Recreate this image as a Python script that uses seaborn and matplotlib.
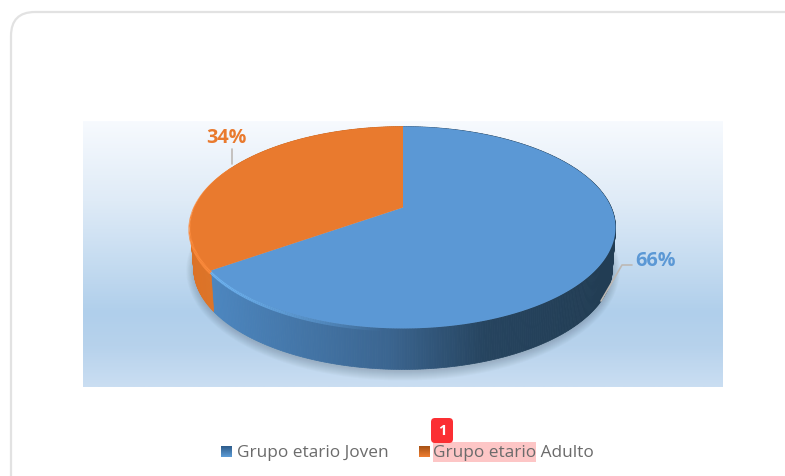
import numpy as np
import matplotlib
matplotlib.use("Agg")
import matplotlib.pyplot as plt
from matplotlib.colors import LinearSegmentedColormap
from matplotlib.patches import FancyBboxPatch, Polygon, Rectangle
import seaborn as sns

categories = ["Grupo etario Joven", "Grupo etario Adulto"]
values = [66, 34]
pct_labels = ["66%", "34%"]

sns.set_theme(style="white")
plt.rcParams["font.family"] = ["Open Sans", "DejaVu Sans"]

BLUE, ORANGE = "#5b98d5", "#e97a2e"
GREY = "#6b6b6b"

fig = plt.figure(figsize=(7.85, 4.77), dpi=100, facecolor="white")
ax = fig.add_axes([0, 0, 1, 1])
ax.set_xlim(0, 785)
ax.set_ylim(477, 0)
ax.axis("off")

# card
ax.add_patch(FancyBboxPatch((11, 13), 840, 520, boxstyle="round,pad=0,rounding_size=24",
                            fc="white", ec="#e2e2e2", lw=1.6, zorder=0))

# plot-area gradient
bg = LinearSegmentedColormap.from_list(
    "bg", [(0, "#f7fafe"), (0.3, "#dfebf7"), (0.72, "#b0cfeb"), (0.85, "#b7d2ec"), (1, "#cadef2")])
ax.imshow(np.linspace(0, 1, 256)[:, None], cmap=bg, extent=(83, 723, 388, 122),
          aspect="auto", zorder=1, interpolation="bilinear")
ax.set_xlim(0, 785)
ax.set_ylim(477, 0)

# perspective disc
CX, CY, A, B, K, DEPTH = 403.0, 208.5, 208.3, 97.0, 0.198, 41.0
WARP = 0.055
BASE = 0.985


def disc(theta):
    th = theta + WARP * np.sin(theta / 2)
    u, v = -np.sin(th), np.cos(th)
    d = 1 + K * v
    return CX + A * u / d, CY - B * v / d


def base_x(x):
    return CX + (x - CX) * BASE


adulto, joven = values[1], values[0]
split = 2 * np.pi * adulto / (adulto + joven)
t_orange = np.linspace(0, split, 200)
t_blue = np.linspace(split, 2 * np.pi, 400)

# soft shadow
t_all = np.linspace(0, 2 * np.pi, 400)
sx, sy = disc(t_all)
for g in np.linspace(9, 0, 10):
    px = CX + (sx - CX) * (BASE + g / 260)
    py = 229 + (sy - 229) * (1 + g / 100) + DEPTH + 2
    ax.add_patch(Polygon(np.c_[px, py], fc="#3d4a55", ec="none", alpha=0.028, zorder=2))

# side wall
wall_map = LinearSegmentedColormap.from_list(
    "wall", [(0, "#4c86bf"), (0.45, "#3b6590"), (0.7, "#26445f"), (1, "#223d54")])
for t0, t1 in zip(t_blue[:-1], t_blue[1:]):
    x0, y0 = disc(t0)
    x1, y1 = disc(t1)
    c = wall_map(np.clip((x0 - 212) / 390, 0, 1))
    ax.add_patch(Polygon([(x0, y0), (x1, y1), (base_x(x1), y1 + DEPTH), (base_x(x0), y0 + DEPTH)],
                         fc=c, ec=c, lw=0.5, zorder=3))
orange_wall = sns.blend_palette(["#c9651f", "#de7428"], 200)
for i, (t0, t1) in enumerate(zip(t_orange[:-1], t_orange[1:])):
    x0, y0 = disc(t0)
    x1, y1 = disc(t1)
    ax.add_patch(Polygon([(x0, y0), (x1, y1), (base_x(x1), y1 + DEPTH), (base_x(x0), y0 + DEPTH)],
                         fc=orange_wall[i], ec=orange_wall[i], lw=0.5, zorder=3))

# rim highlight
for t0, t1 in zip(t_blue[:-1], t_blue[1:]):
    x0, y0 = disc(t0)
    x1, y1 = disc(t1)
    a = np.clip(1 - (x0 - 212) / 170, 0, 1)
    if a > 0:
        ax.plot([x0, x1], [y0 + 1.5, y1 + 1.5], color="#6fb3f0", lw=2.4, alpha=a, zorder=4,
                solid_capstyle="butt")
for t0, t1 in zip(t_orange[100:-1], t_orange[101:]):
    x0, y0 = disc(t0)
    x1, y1 = disc(t1)
    ax.plot([x0, x1], [y0 + 2, y1 + 2], color="#fb8a3c", lw=3, zorder=4, solid_capstyle="butt")

# top face
for t, col, z in ((t_blue, BLUE, 5), (t_orange, ORANGE, 6)):
    x, y = disc(t)
    ax.add_patch(Polygon(np.c_[np.r_[CX, x], np.r_[CY, y]], fc=col, ec="none", zorder=z))

# leader lines
LEADER = "#bdb9b5"
ax.plot([232, 232], [150, 165], color=LEADER, lw=1.2, zorder=7)
ax.plot([632, 622, 601], [266, 266, 302], color=LEADER, lw=1.2, zorder=7)

# data labels
ax.text(226, 138, pct_labels[1], color=ORANGE, fontsize=14.2, fontweight="bold",
        ha="center", va="center", zorder=8)
ax.text(655, 261.5, pct_labels[0], color=BLUE, fontsize=14.2, fontweight="bold",
        ha="center", va="center", zorder=8)

# legend
ax.add_patch(Rectangle((433, 443), 103, 20, fc="#fdc6c6", ec="none", zorder=2))
for x0, top, bot in ((221, "#2f5d8c", "#5b9bd5"), (419, "#a85316", "#ed7d31")):
    grad = LinearSegmentedColormap.from_list("m", [top, bot])
    ax.imshow(np.linspace(0, 1, 16)[:, None], cmap=grad, extent=(x0, x0 + 11, 458, 447),
              aspect="auto", zorder=3)
ax.set_xlim(0, 785)
ax.set_ylim(477, 0)
ax.text(237, 453.5, categories[0], color=GREY, fontsize=12.4, ha="left", va="center", zorder=4)
ax.text(433, 453.5, categories[1], color=GREY, fontsize=12.4, ha="left", va="center", zorder=4)

# badge
ax.add_patch(FancyBboxPatch((431, 419), 22, 25, boxstyle="round,pad=0,rounding_size=4",
                            fc="#fb2f33", ec="none", zorder=5))
ax.text(442, 431.5, "1", color="white", fontsize=10.5, fontweight="bold",
        ha="center", va="center", zorder=6)

fig.savefig("out.png", dpi=100)
